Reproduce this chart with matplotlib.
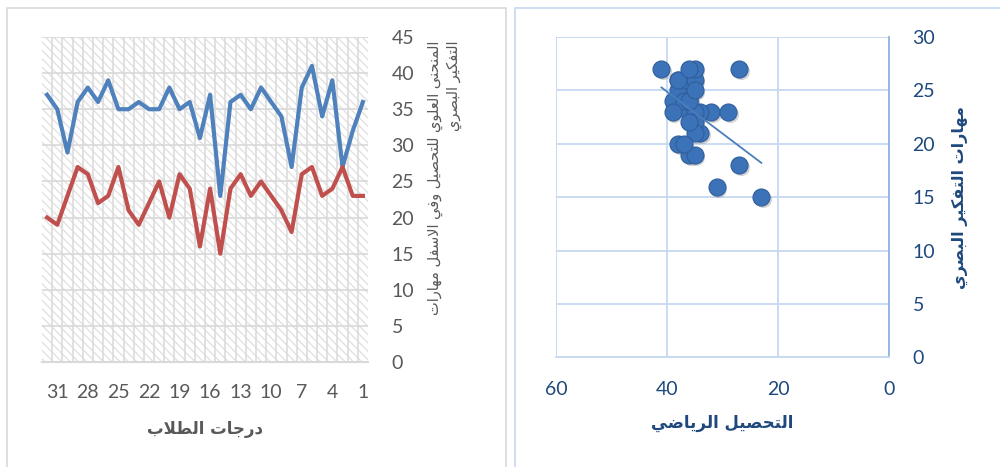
import matplotlib
matplotlib.use('Agg')
import matplotlib.pyplot as plt
from matplotlib.patches import Rectangle
import matplotlib.transforms as mtransforms
import numpy as np

# ----- data, student 1 .. 32 ----- #
students = np.arange(1, 33)
achievement = [36, 32, 27, 39, 34, 41, 38, 27, 34, 36, 38, 35, 37, 36, 23, 37,
               31, 36, 35, 38, 35, 35, 36, 35, 35, 39, 36, 38, 36, 29, 35, 37]
thinking = [23, 23, 27, 24, 23, 27, 26, 18, 21, 23, 25, 23, 26, 24, 15, 24,
            16, 24, 26, 20, 25, 22, 19, 21, 27, 23, 22, 26, 27, 23, 19, 20]

line_xticks = list(range(1, 32, 3))
line_yticks = list(range(0, 46, 5))
scat_xticks = [0, 20, 40, 60]
scat_yticks = list(range(0, 31, 5))

xlabel_left = "درجات الطلاب"
ylabel_left_1 = "المنحنى العلوي للتحصيل وفي الاسفل مهارات"
ylabel_left_2 = "التفكير البصري"
xlabel_right = "التحصيل الرياضي"
ylabel_right = "مهارات التفكير البصري"


# ----- small arabic shaper (no bidi libs here) ----- #
DUAL = {'ب': 0xFE8F, 'ت': 0xFE95, 'ث': 0xFE99, 'ج': 0xFE9D, 'ح': 0xFEA1,
        'خ': 0xFEA5, 'س': 0xFEB1, 'ش': 0xFEB5, 'ص': 0xFEB9, 'ض': 0xFEBD,
        'ط': 0xFEC1, 'ظ': 0xFEC5, 'ع': 0xFEC9, 'غ': 0xFECD, 'ف': 0xFED1,
        'ق': 0xFED5, 'ك': 0xFED9, 'ل': 0xFEDD, 'م': 0xFEE1, 'ن': 0xFEE5,
        'ه': 0xFEE9, 'ي': 0xFEF1}
RIGHT = {'ا': 0xFE8D, 'د': 0xFEA9, 'ذ': 0xFEAB, 'ر': 0xFEAD, 'ز': 0xFEAF,
         'و': 0xFEED, 'ى': 0xFEEF, 'ة': 0xFE93, 'أ': 0xFE83, 'إ': 0xFE87}


def ar(text):
    chars = []
    i = 0
    while i < len(text):
        if text[i] == 'ل' and i + 1 < len(text) and text[i + 1] == 'ا':
            chars.append('LA')
            i += 2
        else:
            chars.append(text[i])
            i += 1
    out = []
    for k, c in enumerate(chars):
        prev = chars[k - 1] if k > 0 else None
        nxt = chars[k + 1] if k + 1 < len(chars) else None
        join_prev = prev in DUAL
        join_next = c in DUAL and (nxt in DUAL or nxt in RIGHT or nxt == 'LA')
        if c == 'LA':
            out.append(chr(0xFEFC if join_prev else 0xFEFB))
        elif c in DUAL:
            base = DUAL[c]
            if join_prev and join_next:
                out.append(chr(base + 3))
            elif join_prev:
                out.append(chr(base + 1))
            elif join_next:
                out.append(chr(base + 2))
            else:
                out.append(chr(base))
        elif c in RIGHT:
            out.append(chr(RIGHT[c] + 1 if join_prev else RIGHT[c]))
        else:
            out.append(c)
    return ''.join(out)[::-1]


plt.rcParams['font.family'] = ['Lato', 'DejaVu Sans']
plt.rcParams['hatch.linewidth'] = 1.0

fig = plt.figure(figsize=(10, 4.67), dpi=100)

# panel frames
fig.patches.append(Rectangle((0.007, -0.05), 0.499, 1.033, transform=fig.transFigure,
                             facecolor='none', edgecolor='#d9d9d9', lw=1.2, zorder=-1))
fig.patches.append(Rectangle((0.515, -0.05), 0.6, 1.033, transform=fig.transFigure,
                             facecolor='none', edgecolor='#c6d9f1', lw=1.2, zorder=-1))

# ----- left: line chart ----- #
ax1 = fig.add_axes([0.042, 0.2248, 0.326, 0.696])
ax1.set_facecolor('none')
ax1.add_patch(Rectangle((0, 0), 1, 1, transform=ax1.transAxes, facecolor='white',
                        edgecolor='#e2e2e2', hatch='\\\\\\\\', lw=0, zorder=0))
for v in np.arange(1.5, 32.5, 1):
    ax1.axvline(v, color='#dcdcdc', lw=1.2, zorder=0.5)
for h in line_yticks[1:]:
    ax1.axhline(h, color='#d9d9d9', lw=1.2, zorder=0.5)

ax1.plot(students, achievement, color='#4f81bd', lw=3, zorder=3)
ax1.plot(students, thinking, color='#c0504d', lw=3, zorder=3)

ax1.set_xlim(32.5, 0.5)
ax1.set_ylim(0, 45)
ax1.set_xticks(line_xticks)
ax1.set_yticks(line_yticks)
ax1.yaxis.tick_right()
for s in ['left', 'right', 'top']:
    ax1.spines[s].set_visible(False)
ax1.spines['bottom'].set_color('#d9d9d9')
ax1.spines['bottom'].set_linewidth(1.5)
ax1.tick_params(axis='both', length=0, labelsize=14, labelcolor='#595959')
ax1.tick_params(axis='x', pad=16)
ax1.tick_params(axis='y', pad=17)
for lab in ax1.get_yticklabels():
    lab.set_horizontalalignment('left')

ax1.text(0.5, -0.205, ar(xlabel_left), transform=ax1.transAxes, ha='center', va='center',
         fontsize=12, fontweight='bold', color='#595959', family='DejaVu Sans')
ax1.text(1.235, 0.99, ar(ylabel_left_1) + '\n' + ar(ylabel_left_2), transform=ax1.transAxes,
         rotation=90, ha='center', va='top', multialignment='right',
         fontsize=10.5, color='#595959', family='DejaVu Sans', linespacing=1.2)

# ----- right: scatter ----- #
ax2 = fig.add_axes([0.556, 0.2345, 0.333, 0.6863])
ax2.set_xlim(60, 0)
ax2.set_ylim(0, 30)
ax2.set_xticks(scat_xticks)
ax2.set_yticks(scat_yticks)
ax2.grid(True, color='#c6d9f1', lw=1.3)
ax2.set_axisbelow(True)
ax2.yaxis.tick_right()
for s in ['left', 'top']:
    ax2.spines[s].set_visible(False)
ax2.spines['bottom'].set_color('#c6d9f1')
ax2.spines['bottom'].set_linewidth(1.3)
ax2.spines['right'].set_color('#8db3e2')
ax2.spines['right'].set_linewidth(1.3)
ax2.tick_params(axis='both', length=0, labelsize=14, labelcolor='#1f497d')
ax2.tick_params(axis='x', pad=17)
ax2.tick_params(axis='y', pad=17)
for lab in ax2.get_yticklabels():
    lab.set_horizontalalignment('left')

shadow = mtransforms.offset_copy(ax2.transData, fig=fig, x=1.5, y=-2, units='dots')
ax2.scatter(achievement, thinking, s=150, color='#7f7f7f', alpha=0.35, lw=0,
            transform=shadow, zorder=2)
ax2.scatter(achievement, thinking, s=150, color='#3b72b8', edgecolor='#2f5f9c',
            lw=0.8, zorder=3)

coef = np.polyfit(achievement, thinking, 1)
trend_x = np.array([min(achievement), max(achievement)])
ax2.plot(trend_x, np.polyval(coef, trend_x), color='#4a7ebb', lw=1.3, zorder=4)

ax2.text(0.5, -0.205, ar(xlabel_right), transform=ax2.transAxes, ha='center', va='center',
         fontsize=12, fontweight='bold', color='#1f497d', family='DejaVu Sans')
ax2.text(1.213, 0.5, ar(ylabel_right), transform=ax2.transAxes, rotation=90,
         ha='center', va='center', fontsize=11.5, fontweight='bold', color='#1f497d',
         family='DejaVu Sans')

fig.savefig('out.png', dpi=100)
